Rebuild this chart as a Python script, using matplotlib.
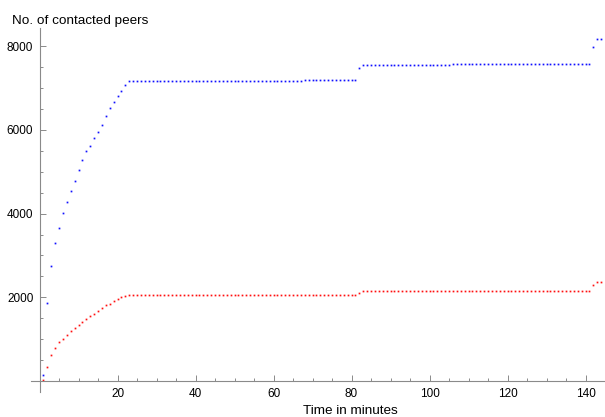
import matplotlib
matplotlib.use("Agg")
import matplotlib.pyplot as plt
from matplotlib.ticker import MultipleLocator

plt.rcParams['font.family'] = ['Liberation Sans', 'DejaVu Sans']

# one sample per minute
minutes = list(range(1, 145))

# upper series (blue)
blue_peers = ([153, 1865, 2756, 3305, 3656, 4021, 4284, 4546, 4771, 5033, 5287,
               5501, 5614, 5805, 5955, 6122, 6330, 6528, 6671, 6808, 6934, 7070]
              + [7165] * 45 + [7180] * 14 + [7483]
              + [7555] * 23 + [7570] * 36 + [7971] + [8176] * 2)

# lower series (red)
red_peers = ([33, 344, 630, 800, 928, 1015, 1110, 1199, 1270, 1350, 1420,
              1492, 1556, 1611, 1683, 1747, 1810, 1841, 1906, 1968, 2016, 2040]
             + [2065] * 59 + [2111] + [2159] * 59 + [2295] + [2373] * 2)

x_ticks = [20, 40, 60, 80, 100, 120, 140]
y_ticks = [2000, 4000, 6000, 8000]

W, H = 605, 417
fig = plt.figure(figsize=(W / 100, H / 100), dpi=100)
ax = fig.add_axes([31 / W, 1 - 392 / H, 574 / W, 364 / H])

ax.plot(minutes, blue_peers, 's', color='#1010ff', ms=1.25, mew=0, clip_on=False)
ax.plot(minutes, red_peers, 's', color='#ff1010', ms=1.25, mew=0, clip_on=False)

ax.set_xlim(-2.2, 145.0)
ax.set_ylim(-260, 8430)

axis_col = '#8a8a8a'
for s in ['top', 'right']:
    ax.spines[s].set_visible(False)
ax.spines['left'].set_position(('data', 0))
ax.spines['bottom'].set_position(('data', 0))
for s in ['left', 'bottom']:
    ax.spines[s].set_color(axis_col)
    ax.spines[s].set_linewidth(0.8)

ax.set_xticks(x_ticks)
ax.set_yticks(y_ticks)
ax.xaxis.set_minor_locator(MultipleLocator(5))
ax.yaxis.set_minor_locator(MultipleLocator(500))
ax.tick_params(which='both', direction='in', color=axis_col, width=0.7,
               labelsize=8.5)
ax.tick_params(which='major', length=4)
ax.tick_params(which='minor', length=2.5)
ax.tick_params(axis='x', pad=5)
ax.tick_params(axis='y', pad=4.5)

fig.text(12 / W, 1 - 24 / H, 'No. of contacted peers', fontsize=9.7,
         va='baseline', ha='left')
fig.text(350 / W, 1 - 414 / H, 'Time in minutes', fontsize=9.7,
         va='baseline', ha='center')

fig.savefig('out.png', dpi=100)
